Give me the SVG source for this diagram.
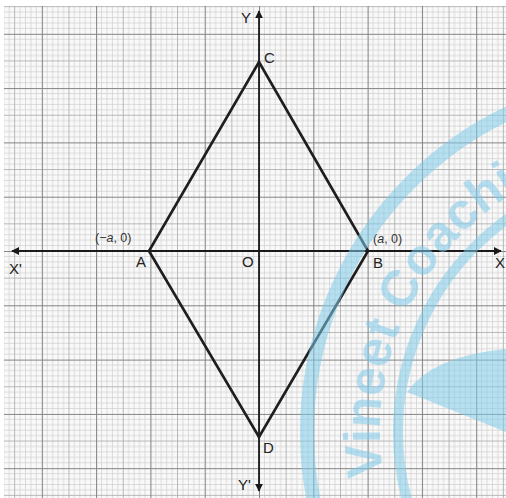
<svg xmlns="http://www.w3.org/2000/svg" width="506" height="498" viewBox="0 0 506 498">
<style>
.minor{stroke:#c6c6c6;stroke-width:0.6;fill:none}
.mid{stroke:#a8a8a8;stroke-width:0.8;fill:none}
.major{stroke:#828282;stroke-width:1.1;fill:none}
.axis{stroke:#1a1a1a;stroke-width:1.8;fill:none}
.side{stroke:#1e1e1e;stroke-width:2.6;fill:none;stroke-linecap:round}
.lbl{font-family:"Liberation Sans",Arial,sans-serif;font-size:15px;fill:#222}
.coord{font-family:"Liberation Sans",Arial,sans-serif;font-size:12.5px;fill:#333}
.wm{fill:#7fcbea;opacity:0.55}
.wmline{fill:none;stroke:#7fcbea;opacity:0.55}
</style>
<defs>
<pattern id="grid" patternUnits="userSpaceOnUse" x="-12.5" y="-20.5" width="54.3" height="54.3">
<path class="minor" d="M5.43 0V54.3M10.86 0V54.3M16.29 0V54.3M21.72 0V54.3M32.58 0V54.3M38.01 0V54.3M43.44 0V54.3M48.87 0V54.3M0 5.43H54.3M0 10.86H54.3M0 16.29H54.3M0 21.72H54.3M0 32.58H54.3M0 38.01H54.3M0 43.44H54.3M0 48.87H54.3"/>
<path class="mid" d="M27.15 0V54.3M0 27.15H54.3"/>
<path class="major" d="M0.5 0V54.3M0 0.5H54.3"/>
</pattern>
<marker id="arr" viewBox="0 0 10 10" refX="9" refY="5" markerWidth="8" markerHeight="8" markerUnits="userSpaceOnUse" orient="auto">
<path d="M0 0L10 5L0 10Z" fill="#1a1a1a"/>
</marker>
<path id="wmarc" d="M383.4 475.8 A280 280 0 0 1 628.3 153.8"/>
</defs>
<rect width="506" height="498" fill="#ffffff"/>
<rect x="4" y="6" width="502" height="492" fill="#f9f9f9"/>
<rect x="4" y="6" width="502" height="492" fill="url(#grid)"/>
<g id="connectors">
<line class="axis" x1="259" y1="251" x2="501" y2="251" marker-end="url(#arr)"/>
<line class="axis" x1="259" y1="251" x2="12" y2="251" marker-end="url(#arr)"/>
<line class="axis" x1="259" y1="250" x2="259" y2="11" marker-end="url(#arr)"/>
<line class="axis" x1="259" y1="250" x2="259" y2="491" marker-end="url(#arr)"/>
<line class="side" x1="149" y1="251" x2="259" y2="62"/>
<line class="side" x1="259" y1="62" x2="368" y2="251"/>
<line class="side" x1="368" y1="251" x2="259" y2="437"/>
<line class="side" x1="259" y1="437" x2="149" y2="251"/>
</g>
<g id="node-A"><text class="coord" x="95" y="242">(−<tspan font-style="italic">a</tspan>, 0)</text><text class="lbl" x="136" y="267">A</text></g>
<g id="node-B"><text class="coord" x="373" y="243">(<tspan font-style="italic">a</tspan>, 0)</text><text class="lbl" x="373" y="268">B</text></g>
<g id="node-C"><text class="lbl" x="264" y="63">C</text></g>
<g id="node-D"><text class="lbl" x="263" y="453">D</text></g>
<g id="node-O"><text class="lbl" x="242" y="267">O</text></g>
<g id="node-X"><text class="lbl" x="495" y="268">X</text></g>
<g id="node-X1"><text class="lbl" x="9" y="274">X'</text></g>
<g id="node-Y"><text class="lbl" x="241" y="23">Y</text></g>
<g id="node-Y1"><text class="lbl" x="238" y="490">Y'</text></g>
<g id="watermark">
<circle class="wmline" cx="660" cy="432" r="353" stroke-width="14"/>
<circle class="wmline" cx="660" cy="432" r="262" stroke-width="10"/>
<path class="wm" d="M407 392Q432 356 506 349L506 432Z"/>
<text class="wm" font-family="Liberation Sans,Arial,sans-serif" font-weight="bold" font-size="51"><textPath href="#wmarc">Vineet Coachi</textPath></text>
</g>
</svg>
